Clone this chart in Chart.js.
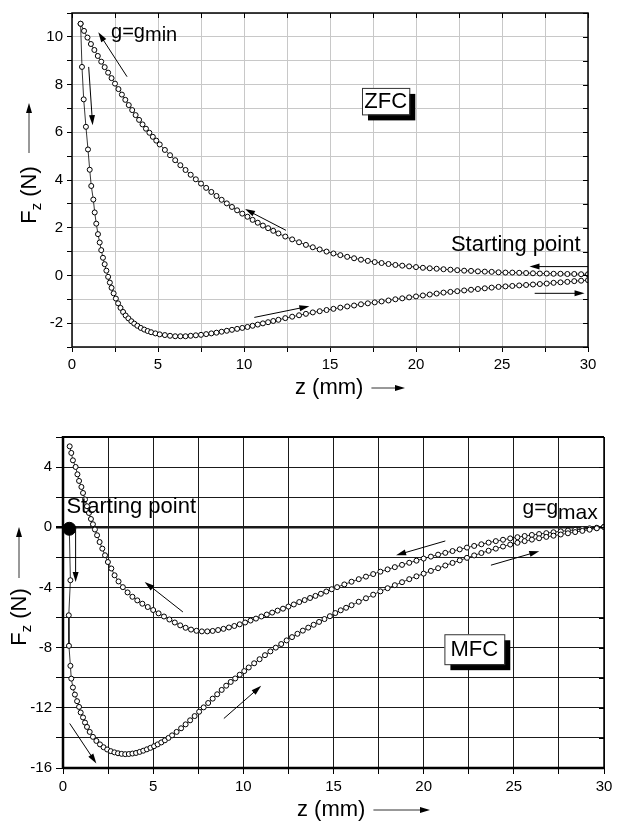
<!DOCTYPE html>
<html>
<head>
<meta charset="utf-8">
<script src="https://cdn.jsdelivr.net/npm/chart.js@4.4.0/dist/chart.umd.min.js"></script>
<style>
body { margin:0; background:#fff; width:631px; height:827px; position:relative; overflow:hidden; }
canvas { position:absolute; left:0; }
#zfc { top:0; }
#mfc { top:410px; }
</style>
</head>
<body>
<canvas id="zfc" width="631" height="410"></canvas>
<canvas id="mfc" width="631" height="417"></canvas>
<script>
// tick labels
const zTicks = [0, 5, 10, 15, 20, 25, 30];
const zfcTicks = [-2, 0, 2, 4, 6, 8, 10];
const mfcTicks = [-16, -12, -8, -4, 0, 4];

// ZFC: approach branch (from z=30 up to g=gmin), [z mm, Fz N]
const zfcIn = [[0.5,10.55],[0.7,10.25],[0.9,9.97],[1.1,9.7],[1.3,9.45],[1.5,9.2],[1.7,8.96],[1.9,8.73],[2.1,8.5],[2.3,8.27],[2.5,8.04],[2.7,7.81],[2.9,7.58],[3.1,7.36],[3.3,7.14],[3.5,6.93],[3.7,6.72],[3.9,6.52],[4.1,6.33],[4.3,6.15],[4.5,5.98],[4.7,5.81],[4.9,5.65],[5.1,5.49],
  [5.4,5.26],[5.7,5.04],[6.0,4.83],[6.3,4.62],[6.6,4.42],[6.9,4.22],[7.2,4.03],[7.5,3.85],[7.8,3.67],[8.1,3.5],[8.4,3.33],[8.7,3.17],[9.0,3.02],[9.3,2.87],[9.6,2.73],[9.9,2.59],[10.2,2.46],[10.5,2.33],[10.8,2.21],[11.1,2.09],[11.4,1.98],[11.7,1.87],[12.0,1.76],
  [12.4,1.63],[12.8,1.51],[13.2,1.39],[13.6,1.28],[14.0,1.18],[14.4,1.09],[14.8,1.0],[15.2,0.92],[15.6,0.85],[16.0,0.78],[16.4,0.72],[16.8,0.66],[17.2,0.61],[17.6,0.56],[18.0,0.52],[18.4,0.48],[18.8,0.44],[19.2,0.41],[19.6,0.38],[20.0,0.35],[20.4,0.32],[20.8,0.3],[21.2,0.28],[21.6,0.26],[22.0,0.24],[22.4,0.22],[22.8,0.2],[23.2,0.19],[23.6,0.17],[24.0,0.16],[24.4,0.15],[24.8,0.13],[25.2,0.12],[25.6,0.12],[26.0,0.11],[26.4,0.1],[26.8,0.09],[27.2,0.08],[27.6,0.08],[28.0,0.07],[28.4,0.07],[28.8,0.06],[29.2,0.06],[29.6,0.05],[30.0,0.05]];

// ZFC: retreat branch (from g=gmin back to z=30)
const zfcOut = [[0.5,10.55],[0.58,8.74],[0.68,7.38],[0.81,6.23],[0.93,5.28],[1.03,4.43],[1.12,3.75],[1.24,3.18],[1.32,2.64],[1.41,2.17],[1.51,1.73],[1.61,1.38],[1.7,1.06],[1.8,0.74],[1.9,0.47],[2.0,0.2],[2.1,-0.06],[2.2,-0.3],[2.3,-0.52],[2.42,-0.75],[2.55,-0.97],[2.68,-1.17],[2.82,-1.36],[2.97,-1.53],[3.12,-1.68],[3.28,-1.8],[3.45,-1.92],[3.62,-2.02],[3.8,-2.11],[4.0,-2.2],[4.2,-2.27],[4.4,-2.33],[4.6,-2.38],[4.85,-2.43],[5.1,-2.47],
  [5.4,-2.5],[5.7,-2.53],[6.0,-2.55],[6.3,-2.55],[6.6,-2.55],[6.9,-2.53],[7.2,-2.51],[7.5,-2.49],[7.8,-2.46],[8.1,-2.43],[8.4,-2.4],[8.7,-2.36],[9.0,-2.32],[9.3,-2.28],[9.6,-2.24],[9.9,-2.2],[10.2,-2.16],[10.5,-2.11],[10.8,-2.06],[11.1,-2.01],[11.4,-1.96],[11.7,-1.91],[12.0,-1.86],
  [12.4,-1.79],[12.8,-1.73],[13.2,-1.67],[13.6,-1.61],[14.0,-1.55],[14.4,-1.5],[14.8,-1.45],[15.2,-1.4],[15.6,-1.35],[16.0,-1.3],[16.4,-1.26],[16.8,-1.21],[17.2,-1.17],[17.6,-1.13],[18.0,-1.09],[18.4,-1.05],[18.8,-1.0],[19.2,-0.96],[19.6,-0.92],[20.0,-0.88],[20.4,-0.84],[20.8,-0.8],[21.2,-0.76],[21.6,-0.72],[22.0,-0.69],[22.4,-0.66],[22.8,-0.63],[23.2,-0.6],[23.6,-0.57],[24.0,-0.54],[24.4,-0.51],[24.8,-0.48],[25.2,-0.46],[25.6,-0.44],[26.0,-0.42],[26.4,-0.4],[26.8,-0.38],[27.2,-0.36],[27.6,-0.34],[28.0,-0.31],[28.4,-0.29],[28.8,-0.27],[29.2,-0.24],[29.6,-0.22],[30.0,-0.2]];

// MFC: starting point and first branch (down to the minimum, then out to g=gmax)
const mfcStart = [[0.35,-0.1]];
const mfcOut = [[0.35,-0.1],[0.41,-3.52],[0.32,-5.85],[0.33,-7.88],[0.41,-9.21],[0.46,-10.06],[0.55,-10.65],[0.66,-11.12],[0.78,-11.56],[0.89,-11.94],[0.98,-12.31],[1.11,-12.64],[1.22,-12.98],[1.33,-13.27],[1.48,-13.6],[1.66,-13.93],[1.85,-14.2],[2.05,-14.43],[2.25,-14.62],[2.45,-14.77],[2.65,-14.88],[2.85,-14.96],[3.05,-15.02],[3.25,-15.06],[3.45,-15.08],[3.65,-15.07],[3.85,-15.04],[4.05,-15.0],[4.25,-14.93],[4.45,-14.85],[4.65,-14.76],[4.85,-14.66],[5.05,-14.55],[5.25,-14.43],[5.45,-14.3],[5.65,-14.16],[5.85,-14.0],[6.05,-13.83],
  [6.3,-13.6],[6.55,-13.36],[6.8,-13.1],[7.05,-12.83],[7.3,-12.55],[7.55,-12.26],[7.8,-11.97],[8.05,-11.68],[8.3,-11.39],[8.55,-11.1],[8.8,-10.81],[9.05,-10.53],[9.3,-10.28],[9.55,-10.05],[9.8,-9.8],[10.05,-9.56],[10.3,-9.32],[10.6,-9.04],[10.9,-8.77],[11.2,-8.5],[11.5,-8.25],[11.8,-8.0],[12.1,-7.76],[12.4,-7.52],[12.7,-7.3],[13.0,-7.08],[13.3,-6.87],[13.6,-6.67],[13.9,-6.48],[14.2,-6.29],[14.5,-6.1],[14.8,-5.91],[15.1,-5.7],[15.4,-5.52],[15.7,-5.35],[16.0,-5.18],
  [16.4,-4.95],[16.8,-4.72],[17.2,-4.48],[17.6,-4.26],[18.0,-4.05],[18.4,-3.85],[18.8,-3.65],[19.2,-3.45],[19.6,-3.26],[20.0,-3.08],[20.4,-2.9],[20.8,-2.72],[21.2,-2.54],[21.6,-2.37],[22.0,-2.2],[22.4,-2.03],[22.8,-1.87],[23.2,-1.71],[23.6,-1.56],[24.0,-1.42],[24.4,-1.28],[24.8,-1.15],[25.2,-1.03],[25.6,-0.92],[26.0,-0.82],[26.4,-0.73],[26.8,-0.64],[27.2,-0.56],[27.6,-0.48],[28.0,-0.4],[28.4,-0.32],[28.8,-0.24],[29.2,-0.16],[29.6,-0.07],[30.0,0.03]];

// MFC: return branch (from g=gmax back towards the magnet)
const mfcIn = [[0.37,5.38],[0.46,4.94],[0.55,4.45],[0.7,4.01],[0.8,3.52],[0.89,3.08],[1.02,2.68],[1.11,2.28],[1.22,1.85],[1.33,1.4],[1.44,0.95],[1.55,0.55],[1.66,0.2],[1.77,-0.15],[1.89,-0.53],[2.03,-0.98],[2.18,-1.42],[2.33,-1.86],[2.49,-2.31],[2.68,-2.74],[2.86,-3.19],[3.08,-3.6],[3.32,-3.98],[3.58,-4.33],[3.85,-4.62],[4.12,-4.86],[4.4,-5.08],[4.7,-5.3],[5.0,-5.5],
  [5.3,-5.72],[5.6,-5.93],[5.9,-6.13],[6.2,-6.33],[6.5,-6.52],[6.8,-6.68],[7.1,-6.8],[7.4,-6.88],[7.7,-6.92],[8.0,-6.92],[8.3,-6.89],[8.6,-6.83],[8.9,-6.75],[9.2,-6.66],[9.5,-6.56],[9.8,-6.45],[10.1,-6.33],[10.4,-6.2],[10.7,-6.07],[11.0,-5.93],[11.3,-5.8],[11.6,-5.67],[11.9,-5.54],[12.2,-5.41],[12.5,-5.27],[12.8,-5.13],[13.1,-4.97],[13.4,-4.84],[13.7,-4.7],[14.0,-4.56],[14.3,-4.42],[14.6,-4.27],[14.9,-4.12],
  [15.2,-3.98],[15.6,-3.8],[16.0,-3.62],[16.4,-3.45],[16.8,-3.28],[17.2,-3.11],[17.6,-2.95],[18.0,-2.8],[18.4,-2.65],[18.8,-2.5],[19.2,-2.36],[19.6,-2.22],[20.0,-2.08],[20.4,-1.95],[20.8,-1.82],[21.2,-1.7],[21.6,-1.58],[22.0,-1.47],[22.4,-1.35],[22.8,-1.24],[23.2,-1.13],[23.6,-1.02],[24.0,-0.92],[24.4,-0.83],[24.8,-0.74],[25.2,-0.66],[25.6,-0.58],[26.0,-0.51],[26.4,-0.45],[26.8,-0.39],[27.2,-0.33],[27.6,-0.27],[28.0,-0.22],[28.4,-0.17],[28.8,-0.12],[29.2,-0.07],[29.6,-0.03],[30.0,0.02]];

// direction arrows, in data units: [z1, F1, z2, F2], head at the second end
const zfcArrows = [[3.2,8.33,1.53,10.19],[0.97,8.74,1.2,6.3],[12.44,1.89,10.06,2.78],[10.6,-1.76,13.8,-1.29],[30,0.37,26.6,0.37],[26.9,-0.75,29.8,-0.75]];
const mfcArrows = [[0.7,-0.2,0.7,-3.63],[0.37,-13.04,1.85,-15.7],[6.65,-5.63,4.53,-3.63],[8.92,-12.71,10.99,-10.54],[21.2,-0.91,18.47,-1.86],[23.73,-2.52,26.41,-1.59]];

const FONT = '"Liberation Sans", Arial, sans-serif';
const pts = arr => arr.map(p => ({x: p[0], y: p[1]}));

function arrow(ctx, x1, y1, x2, y2) {
  const a = Math.atan2(y2 - y1, x2 - x1), len = 10, w = 3;
  const c = Math.cos(a), s = Math.sin(a);
  ctx.beginPath();
  ctx.moveTo(x1, y1);
  ctx.lineTo(x2 - c * len * 0.7, y2 - s * len * 0.7);
  ctx.stroke();
  ctx.beginPath();
  ctx.moveTo(x2, y2);
  ctx.lineTo(x2 - c * len + s * w, y2 - s * len - c * w);
  ctx.lineTo(x2 - c * len - s * w, y2 - s * len + c * w);
  ctx.closePath();
  ctx.fill();
}

function subText(ctx, x, y, main, sub, drop, size) {
  ctx.font = size + 'px ' + FONT;
  ctx.fillText(main, x, y);
  const w = ctx.measureText(main).width;
  ctx.fillText(sub, x + w, y + drop);
}

function shadowBox(ctx, xs, ys, z1, f1, z2, f2, label) {
  const x1 = xs.getPixelForValue(z1), x2 = xs.getPixelForValue(z2);
  const y1 = ys.getPixelForValue(f1), y2 = ys.getPixelForValue(f2);
  ctx.fillStyle = '#000';
  ctx.fillRect(x1 + 6, y1 + 6, x2 - x1, y2 - y1);
  ctx.fillStyle = '#fff';
  ctx.fillRect(x1, y1, x2 - x1, y2 - y1);
  ctx.lineWidth = 1;
  ctx.strokeStyle = '#333';
  ctx.strokeRect(x1 + 0.5, y1 + 0.5, x2 - x1, y2 - y1);
  ctx.fillStyle = '#000';
  ctx.font = '22px ' + FONT;
  ctx.textAlign = 'center';
  ctx.textBaseline = 'middle';
  ctx.fillText(label, (x1 + x2) / 2, (y1 + y2) / 2 + 1);
  ctx.textAlign = 'left';
  ctx.textBaseline = 'alphabetic';
}

function yTitle(ctx, x, y, arrowX, arrowY1, arrowY2) {
  ctx.save();
  ctx.translate(x, y);
  ctx.rotate(-Math.PI / 2);
  ctx.font = '22px ' + FONT;
  const wF = ctx.measureText('F').width, wN = ctx.measureText(' (N)').width;
  ctx.font = '15px ' + FONT;
  const wz = ctx.measureText('z').width;
  let x0 = -(wF + wz + wN) / 2;
  ctx.font = '22px ' + FONT;
  ctx.fillText('F', x0, 0);
  ctx.font = '15px ' + FONT;
  ctx.fillText('z', x0 + wF, 5);
  ctx.font = '22px ' + FONT;
  ctx.fillText(' (N)', x0 + wF + wz, 0);
  ctx.restore();
  ctx.lineWidth = 1;
  arrow(ctx, arrowX, arrowY1, arrowX, arrowY2);
}

function xTitle(ctx, x, y, arrowEnd) {
  ctx.font = '22px ' + FONT;
  ctx.textBaseline = 'middle';
  ctx.fillText('z (mm)', x, y);
  const w = ctx.measureText('z (mm)').width;
  ctx.textBaseline = 'alphabetic';
  ctx.lineWidth = 1;
  arrow(ctx, x + w + 8, y, arrowEnd, y);
}

function series(data, extra) {
  return Object.assign({
    data: pts(data),
    showLine: true,
    borderColor: '#000',
    borderWidth: 0.8,
    pointRadius: 2.5,
    pointBorderWidth: 1,
    pointBackgroundColor: '#fff',
    pointBorderColor: '#000'
  }, extra || {});
}

function axes(yMin, yMax, yStep, yLabels, gridColor, yWidth, xHeight, yTickLen, xTickLen) {
  return {
    x: {
      type: 'linear', min: 0, max: 30,
      ticks: { stepSize: 2.5, autoSkip: false, maxRotation: 0, padding: 4, color: '#000',
        font: { family: FONT, size: 15 },
        callback: v => zTicks.includes(v) ? String(v) : '' },
      grid: { color: gridColor, lineWidth: 1, tickColor: '#000', tickLength: xTickLen },
      border: { display: false },
      afterFit: s => { s.height = xHeight; }
    },
    y: {
      type: 'linear', min: yMin, max: yMax,
      ticks: { stepSize: yStep, autoSkip: false, padding: 4, color: '#000',
        font: { family: FONT, size: 15 },
        callback: v => yLabels.includes(v) ? String(v) : '' },
      grid: { color: gridColor, lineWidth: c => (gridColor !== '#c8c8c8' && c.tick && c.tick.value === 0) ? 2.5 : 1,
        tickColor: '#000', tickLength: yTickLen },
      border: { display: false },
      afterFit: s => { s.width = yWidth; }
    }
  };
}

const zfcDeco = {
  id: 'zfcDeco',
  afterDraw(chart) {
    const { ctx, chartArea: a, scales: { x, y } } = chart;
    ctx.save();
    ctx.strokeStyle = '#000';
    ctx.fillStyle = '#000';
    ctx.lineWidth = 1.5;
    ctx.strokeRect(a.left, a.top, a.right - a.left, a.bottom - a.top);
    ctx.lineWidth = 1;
    x.ticks.forEach(t => {
      const X = Math.round(x.getPixelForValue(t.value)) + 0.5;
      ctx.beginPath(); ctx.moveTo(X, a.top); ctx.lineTo(X, a.top + 5); ctx.stroke();
    });
    y.ticks.forEach(t => {
      const Y = Math.round(y.getPixelForValue(t.value)) + 0.5;
      ctx.beginPath(); ctx.moveTo(a.right, Y); ctx.lineTo(a.right - 5, Y); ctx.stroke();
    });
    zfcArrows.forEach(r => arrow(ctx, x.getPixelForValue(r[0]), y.getPixelForValue(r[1]),
      x.getPixelForValue(r[2]), y.getPixelForValue(r[3])));
    subText(ctx, x.getPixelForValue(2.27), y.getPixelForValue(9.97), 'g=g', 'min', 3, 20);
    ctx.font = '22px ' + FONT;
    ctx.fillText('Starting point', x.getPixelForValue(22.03), y.getPixelForValue(1.02));
    shadowBox(ctx, x, y, 16.86, 7.86, 19.61, 6.75, 'ZFC');
    yTitle(ctx, 36, 195, 29, 153, 103);
    xTitle(ctx, 295, 388, 405);
    ctx.restore();
  }
};

const mfcDeco = {
  id: 'mfcDeco',
  afterDraw(chart) {
    const { ctx, chartArea: a, scales: { x, y } } = chart;
    ctx.save();
    ctx.strokeStyle = '#000';
    ctx.fillStyle = '#000';
    const line = (w, x1, y1, x2, y2) => { ctx.lineWidth = w; ctx.beginPath(); ctx.moveTo(x1, y1); ctx.lineTo(x2, y2); ctx.stroke(); };
    line(2, a.left, a.top, a.right, a.top);
    line(1.5, a.right, a.top, a.right, a.bottom);
    line(2.5, a.left, a.top - 1, a.left, a.bottom + 1);
    line(2.5, a.left, a.bottom, a.right, a.bottom);
    y.ticks.forEach(t => {
      const Y = Math.round(y.getPixelForValue(t.value)) + 0.5;
      line(1, a.right, Y, a.right - 5, Y);
    });
    ctx.lineWidth = 1;
    mfcArrows.forEach(r => arrow(ctx, x.getPixelForValue(r[0]), y.getPixelForValue(r[1]),
      x.getPixelForValue(r[2]), y.getPixelForValue(r[3])));
    ctx.font = '22px ' + FONT;
    ctx.fillText('Starting point', x.getPixelForValue(0.19), y.getPixelForValue(0.98));
    subText(ctx, x.getPixelForValue(25.48), y.getPixelForValue(0.86), 'g=g', 'max', 5, 21);
    shadowBox(ctx, x, y, 21.15, -7.11, 24.47, -9.1, 'MFC');
    yTitle(ctx, 26, 207, 19, 168, 117);
    xTitle(ctx, 297, 400, 430);
    ctx.restore();
  }
};

const common = {
  responsive: false,
  animation: false,
  devicePixelRatio: 1,
  plugins: { legend: { display: false }, tooltip: { enabled: false } }
};

new Chart(document.getElementById('zfc'), {
  type: 'scatter',
  data: { datasets: [ series(zfcOut), series(zfcIn) ] },
  options: Object.assign({}, common, {
    layout: { padding: { left: 0, right: 43, top: 3, bottom: 0 } },
    scales: axes(-3, 11, 1, zfcTicks, '#c8c8c8', 72, 63, 5, 5)
  }),
  plugins: [zfcDeco]
});

new Chart(document.getElementById('mfc'), {
  type: 'scatter',
  data: { datasets: [
    series(mfcStart, { showLine: false, pointRadius: 6.5, pointBackgroundColor: '#000' }),
    series(mfcOut),
    series(mfcIn)
  ] },
  options: Object.assign({}, common, {
    layout: { padding: { left: 0, right: 27, top: 27, bottom: 0 } },
    scales: axes(-16, 6, 2, mfcTicks, '#1a1a1a', 63, 59, 7, 6)
  }),
  plugins: [mfcDeco]
});
</script>
</body>
</html>
